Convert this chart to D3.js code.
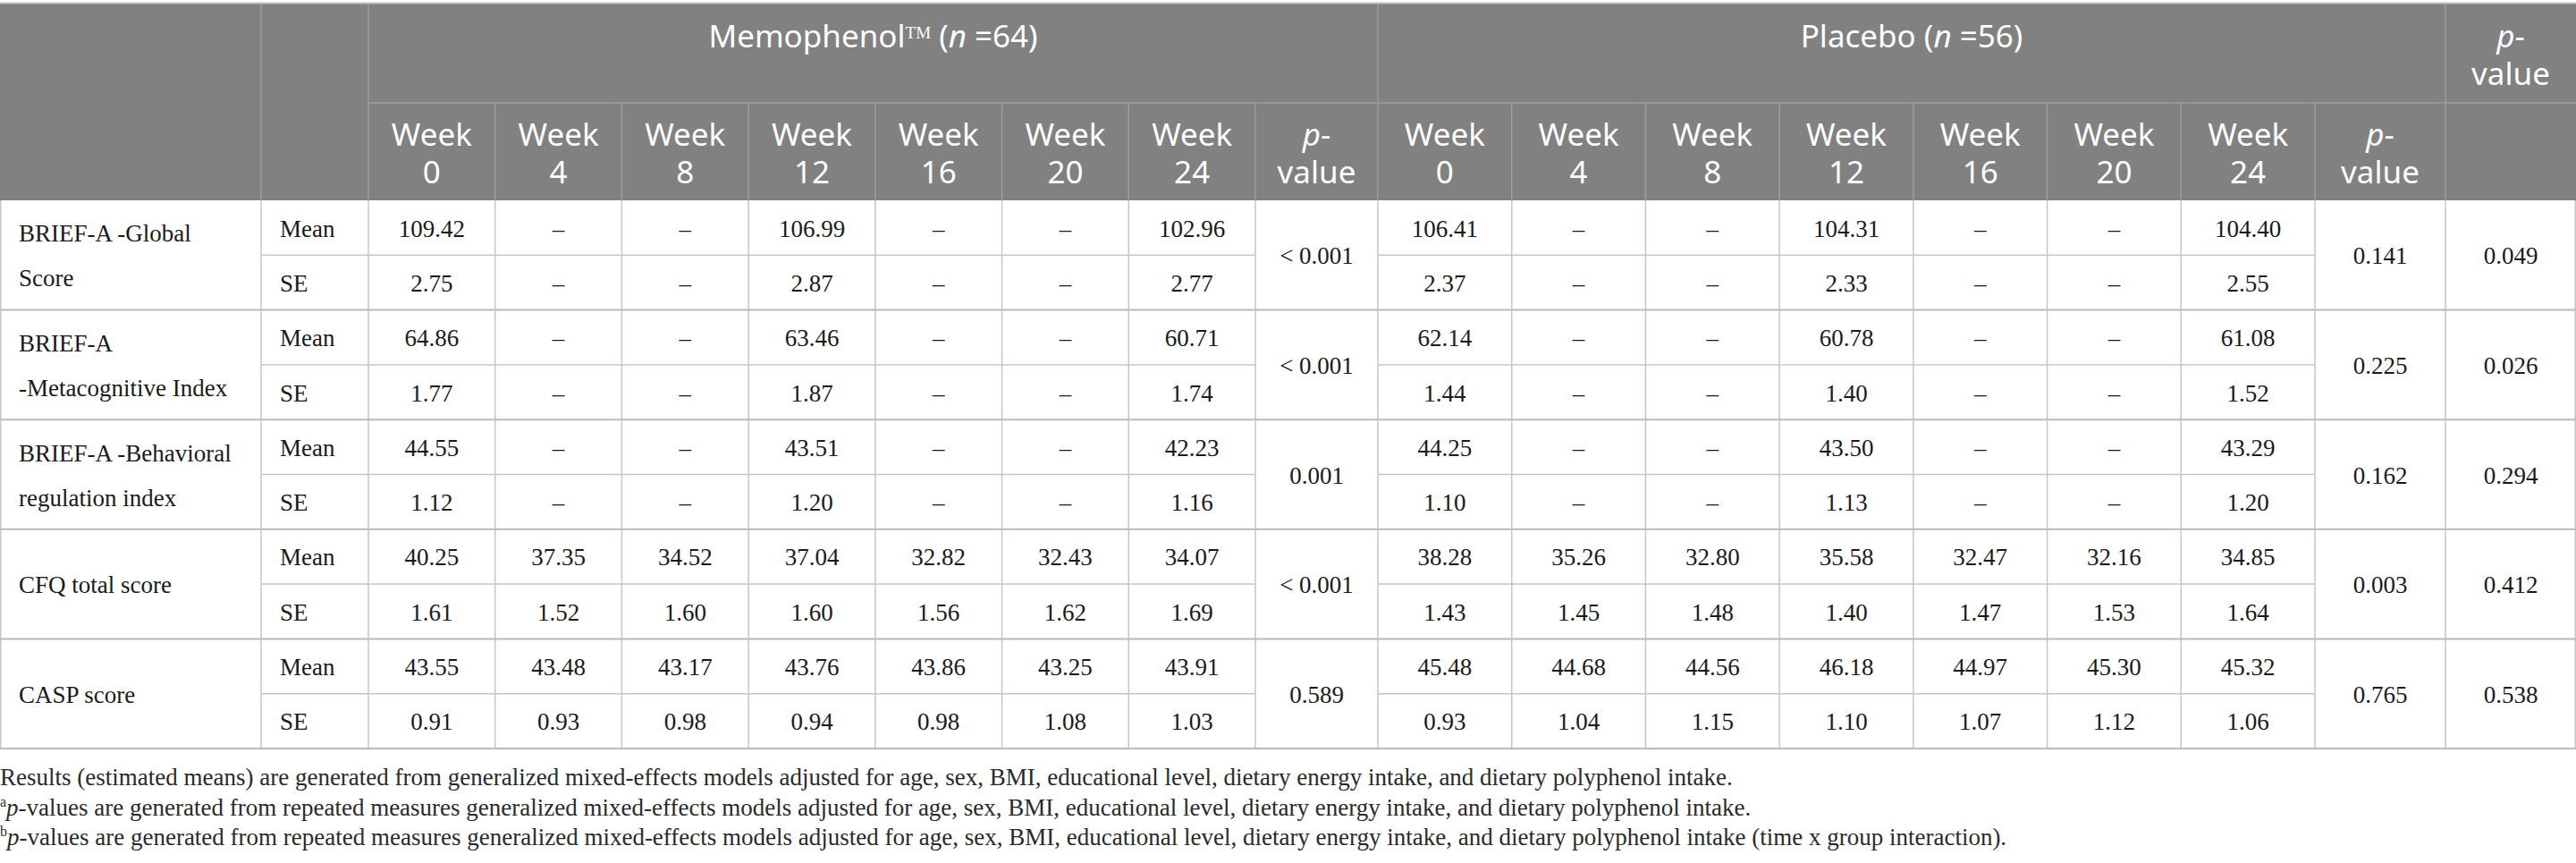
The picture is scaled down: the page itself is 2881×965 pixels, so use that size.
<!DOCTYPE html>
<html>
<head>
<meta charset="utf-8">
<script src="https://cdn.jsdelivr.net/npm/d3@7"></script>
<style>
    html, body { margin: 0; padding: 0; background: #fff; }
    svg { display: block; }
</style>
</head>
<body>
<div id="table-container"></div>
<script>
// Table data
const measureLabels = [
    ['BRIEF-A -Global', 'Score'],
    ['BRIEF-A', '-Metacognitive Index'],
    ['BRIEF-A -Behavioral', 'regulation index'],
    ['CFQ total score'],
    ['CASP score']
];
const statLabels = ['Mean', 'SE'];
const weeks = ['0', '4', '8', '12', '16', '20', '24'];

// null = not measured (shown as a dash)
const memoMean = [
    [109.42, null, null, 106.99, null, null, 102.96],
    [64.86, null, null, 63.46, null, null, 60.71],
    [44.55, null, null, 43.51, null, null, 42.23],
    [40.25, 37.35, 34.52, 37.04, 32.82, 32.43, 34.07],
    [43.55, 43.48, 43.17, 43.76, 43.86, 43.25, 43.91]
];
const memoSE = [
    [2.75, null, null, 2.87, null, null, 2.77],
    [1.77, null, null, 1.87, null, null, 1.74],
    [1.12, null, null, 1.20, null, null, 1.16],
    [1.61, 1.52, 1.60, 1.60, 1.56, 1.62, 1.69],
    [0.91, 0.93, 0.98, 0.94, 0.98, 1.08, 1.03]
];
const placeboMean = [
    [106.41, null, null, 104.31, null, null, 104.40],
    [62.14, null, null, 60.78, null, null, 61.08],
    [44.25, null, null, 43.50, null, null, 43.29],
    [38.28, 35.26, 32.80, 35.58, 32.47, 32.16, 34.85],
    [45.48, 44.68, 44.56, 46.18, 44.97, 45.30, 45.32]
];
const placeboSE = [
    [2.37, null, null, 2.33, null, null, 2.55],
    [1.44, null, null, 1.40, null, null, 1.52],
    [1.10, null, null, 1.13, null, null, 1.20],
    [1.43, 1.45, 1.48, 1.40, 1.47, 1.53, 1.64],
    [0.93, 1.04, 1.15, 1.10, 1.07, 1.12, 1.06]
];
const memoP = ['< 0.001', '< 0.001', '0.001', '< 0.001', '0.589'];
const placeboP = ['0.141', '0.225', '0.162', '0.003', '0.765'];
const groupP = ['0.049', '0.026', '0.294', '0.412', '0.538'];

const footnoteText = 'generalized mixed-effects models adjusted for age, sex, BMI, educational level, dietary energy intake, and dietary polyphenol intake';
const footnotes = [
    { mark: '', italic: '', text: 'Results (estimated means) are generated from ' + footnoteText + '.' },
    { mark: 'a', italic: 'p', text: '-values are generated from repeated measures ' + footnoteText + '.' },
    { mark: 'b', italic: 'p', text: '-values are generated from repeated measures ' + footnoteText + ' (time x group interaction).' }
];

function renderTable() {
    const width = 2881;
    const height = 965;

    // Layout
    const top = 4;
    const headMid = 115;
    const headBottom = 224;
    const bodyBottom = 837;
    const xLabel = 0, xStat = 292, xMemo = 412, xMemoP = 1404, xPlac = 1541, xPlacP = 2589, xGroupP = 2735;

    const colors = {
        header: '#808180',
        headerLine: '#9d9e9d',
        line: '#c6c6c6',
        groupLine: '#bababa',
        text: '#1a1a1a',
        note: '#2a2a2a'
    };
    const sans = "'Noto Sans', 'Open Sans', sans-serif";
    const serif = "'Liberation Serif', 'DejaVu Serif', serif";

    const svg = d3.select('#table-container')
        .append('svg')
        .attr('width', width)
        .attr('height', height);

    // Scales
    const xMemoScale = d3.scaleBand().domain(weeks).range([xMemo, xMemoP]);
    const xPlacScale = d3.scaleBand().domain(weeks).range([xPlac, xPlacP]);
    const rowScale = d3.scaleBand()
        .domain(d3.range(measureLabels.length * statLabels.length))
        .range([headBottom, bodyBottom]);
    const groupScale = d3.scaleBand()
        .domain(d3.range(measureLabels.length))
        .range([headBottom, bodyBottom]);

    // Header background
    svg.append('rect')
        .attr('x', 0)
        .attr('y', top)
        .attr('width', width)
        .attr('height', headBottom - top)
        .attr('fill', colors.header);

    svg.append('line')
        .attr('x1', 0).attr('x2', width)
        .attr('y1', top - 0.5).attr('y2', top - 0.5)
        .attr('stroke', '#c4c4c4')
        .attr('stroke-width', 2);

    // Header grid lines
    const headerLines = svg.append('g')
        .attr('stroke', colors.headerLine)
        .attr('stroke-width', 1.5);

    [xStat, xMemo, xPlac, xGroupP].forEach(x => {
        headerLines.append('line')
            .attr('x1', x).attr('x2', x)
            .attr('y1', top).attr('y2', headBottom);
    });
    const secondRowX = xMemoScale.domain().slice(1).map(w => xMemoScale(w))
        .concat([xMemoP])
        .concat(xPlacScale.domain().slice(1).map(w => xPlacScale(w)))
        .concat([xPlacP]);
    secondRowX.forEach(x => {
        headerLines.append('line')
            .attr('x1', x).attr('x2', x)
            .attr('y1', headMid).attr('y2', headBottom);
    });
    headerLines.append('line')
        .attr('x1', xMemo).attr('x2', width)
        .attr('y1', headMid).attr('y2', headMid);

    // Header text
    const headerText = svg.append('g')
        .attr('fill', '#fff')
        .style('font-family', sans)
        .style('font-size', '35px')
        .attr('text-anchor', 'middle');

    const memoTitle = headerText.append('text')
        .attr('x', (xMemo + xPlac) / 2)
        .attr('y', top + 49);
    memoTitle.append('tspan').text('Memophenol');
    memoTitle.append('tspan')
        .style('font-family', serif)
        .style('font-size', '19px')
        .attr('dy', -10)
        .text('TM');
    memoTitle.append('tspan').attr('dy', 10).text(' (');
    memoTitle.append('tspan').style('font-style', 'italic').text('n');
    memoTitle.append('tspan').text(' =64)');

    const placTitle = headerText.append('text')
        .attr('x', (xPlac + xGroupP) / 2)
        .attr('y', top + 49);
    placTitle.append('tspan').text('Placebo (');
    placTitle.append('tspan').style('font-style', 'italic').text('n');
    placTitle.append('tspan').text(' =56)');

    function addPValueHeader(cx, y) {
        const t = headerText.append('text').attr('x', cx).attr('y', y);
        t.append('tspan').style('font-style', 'italic').text('p');
        t.append('tspan').text('-');
        headerText.append('text').attr('x', cx).attr('y', y + 42).text('value');
    }
    addPValueHeader((xGroupP + width) / 2, top + 49);
    addPValueHeader((xMemoP + xPlac) / 2, headMid + 48);
    addPValueHeader((xPlacP + xGroupP) / 2, headMid + 48);

    [xMemoScale, xPlacScale].forEach(scale => {
        weeks.forEach(w => {
            const cx = scale(w) + scale.bandwidth() / 2;
            headerText.append('text').attr('x', cx).attr('y', headMid + 48).text('Week');
            headerText.append('text').attr('x', cx).attr('y', headMid + 90).text(w);
        });
    });

    // Body grid lines
    const bodyLines = svg.append('g')
        .attr('stroke', colors.line)
        .attr('stroke-width', 1.5);

    [0.75, xStat, xMemo].concat(xMemoScale.domain().slice(1).map(w => xMemoScale(w)))
        .concat([xMemoP, xPlac])
        .concat(xPlacScale.domain().slice(1).map(w => xPlacScale(w)))
        .concat([xPlacP, xGroupP, width - 0.75])
        .forEach(x => {
            bodyLines.append('line')
                .attr('x1', x).attr('x2', x)
                .attr('y1', headBottom).attr('y2', bodyBottom);
        });

    // Lines between Mean and SE rows (not through the spanning cells)
    measureLabels.forEach((m, i) => {
        const y = rowScale(i * 2 + 1);
        bodyLines.append('line')
            .attr('x1', xStat).attr('x2', xMemoP)
            .attr('y1', y).attr('y2', y);
        bodyLines.append('line')
            .attr('x1', xPlac).attr('x2', xPlacP)
            .attr('y1', y).attr('y2', y);
    });

    // Lines between measures
    measureLabels.forEach((m, i) => {
        const y = groupScale(i) + groupScale.bandwidth();
        bodyLines.append('line')
            .attr('x1', 0).attr('x2', width)
            .attr('y1', y).attr('y2', y)
            .attr('stroke', colors.groupLine)
            .attr('stroke-width', 2);
    });

    // Body text
    const body = svg.append('g')
        .attr('fill', colors.text)
        .style('font-family', serif)
        .style('font-size', '27px');

    const fmt = v => v === null ? '\u2013' : v.toFixed(2);
    const half = rowScale.bandwidth() / 2;

    measureLabels.forEach((lines, i) => {
        const gy = groupScale(i) + groupScale.bandwidth() / 2;
        lines.forEach((line, j) => {
            body.append('text')
                .attr('x', xLabel + 21)
                .attr('y', gy + 10 + (j - (lines.length - 1) / 2) * 50)
                .text(line);
        });

        [memoMean[i], memoSE[i]].forEach((vals, s) => {
            const y = rowScale(i * 2 + s) + half + 10;
            body.append('text')
                .attr('x', xStat + 21)
                .attr('y', y)
                .text(statLabels[s]);
            vals.forEach((v, k) => {
                body.append('text')
                    .attr('x', xMemoScale(weeks[k]) + xMemoScale.bandwidth() / 2)
                    .attr('y', y)
                    .attr('text-anchor', 'middle')
                    .text(fmt(v));
            });
            [placeboMean[i], placeboSE[i]][s].forEach((v, k) => {
                body.append('text')
                    .attr('x', xPlacScale(weeks[k]) + xPlacScale.bandwidth() / 2)
                    .attr('y', y)
                    .attr('text-anchor', 'middle')
                    .text(fmt(v));
            });
        });

        [[memoP[i], (xMemoP + xPlac) / 2],
         [placeboP[i], (xPlacP + xGroupP) / 2],
         [groupP[i], (xGroupP + width) / 2]].forEach(([p, cx]) => {
            body.append('text')
                .attr('x', cx)
                .attr('y', gy + 10)
                .attr('text-anchor', 'middle')
                .text(p);
        });
    });

    // Footnotes
    const notes = svg.append('g')
        .attr('fill', colors.note)
        .style('font-family', serif)
        .style('font-size', '27px');

    footnotes.forEach((f, i) => {
        const t = notes.append('text')
            .attr('x', 0)
            .attr('y', 878 + i * 33.5);
        if (f.mark) {
            t.append('tspan')
                .style('font-size', '16px')
                .attr('dy', -10)
                .text(f.mark);
            t.append('tspan')
                .attr('dy', 10)
                .style('font-style', 'italic')
                .text(f.italic);
        }
        t.append('tspan').text(f.text);
    });
}

renderTable();
</script>
</body>
</html>
